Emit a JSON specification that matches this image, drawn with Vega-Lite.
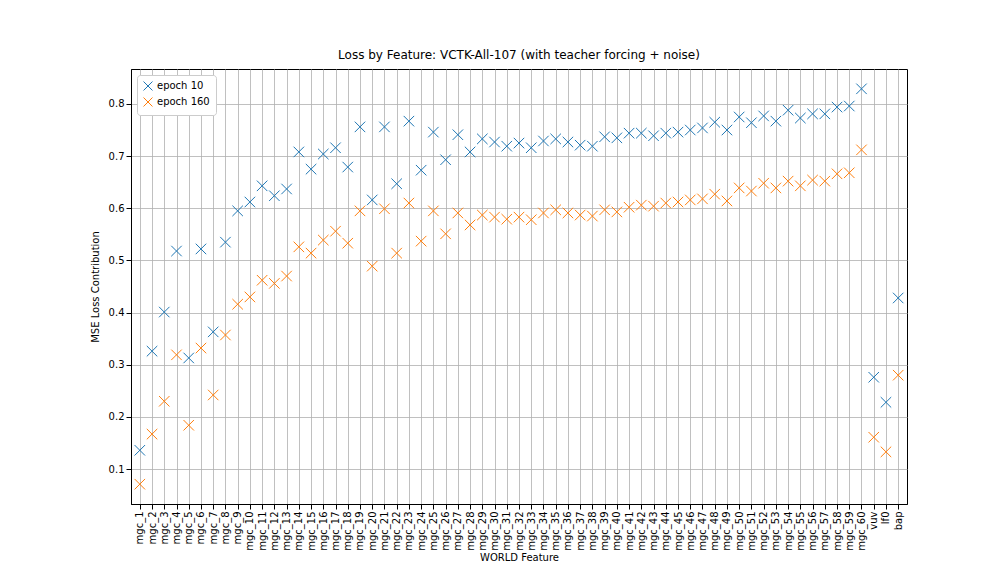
{
  "$schema": "https://vega.github.io/schema/vega-lite/v6.json",
  "width": 776,
  "height": 435,
  "autosize": {"type": "none"},
  "padding": {"left": 131, "top": 69, "right": 101, "bottom": 72},
  "background": "white",
  "config": {
    "font": "DejaVu Sans",
    "view": {"stroke": "black"},
    "axis": {"gridColor": "#b0b0b0", "gridWidth": 0.8, "gridOpacity": 1, "domainColor": "black", "tickColor": "black", "labelColor": "black", "labelFontSize": 10, "titleFontSize": 10, "titleFontWeight": "normal", "titleColor": "black"}
  },
  "title": {"text": "Loss by Feature: VCTK-All-107 (with teacher forcing + noise)", "fontSize": 12, "fontWeight": "normal", "offset": 7},
  "data": {
    "values": [
      {"f": "mgc_1", "a": 0.136, "b": 0.071},
      {"f": "mgc_2", "a": 0.326, "b": 0.167},
      {"f": "mgc_3", "a": 0.401, "b": 0.23},
      {"f": "mgc_4", "a": 0.518, "b": 0.319},
      {"f": "mgc_5", "a": 0.313, "b": 0.184},
      {"f": "mgc_6", "a": 0.522, "b": 0.332},
      {"f": "mgc_7", "a": 0.363, "b": 0.242},
      {"f": "mgc_8", "a": 0.535, "b": 0.357},
      {"f": "mgc_9", "a": 0.595, "b": 0.416},
      {"f": "mgc_10", "a": 0.612, "b": 0.43},
      {"f": "mgc_11", "a": 0.643, "b": 0.462},
      {"f": "mgc_12", "a": 0.624, "b": 0.456},
      {"f": "mgc_13", "a": 0.637, "b": 0.47},
      {"f": "mgc_14", "a": 0.708, "b": 0.526},
      {"f": "mgc_15", "a": 0.675, "b": 0.514},
      {"f": "mgc_16", "a": 0.704, "b": 0.539},
      {"f": "mgc_17", "a": 0.716, "b": 0.556},
      {"f": "mgc_18", "a": 0.679, "b": 0.533},
      {"f": "mgc_19", "a": 0.756, "b": 0.595},
      {"f": "mgc_20", "a": 0.616, "b": 0.489},
      {"f": "mgc_21", "a": 0.756, "b": 0.599},
      {"f": "mgc_22", "a": 0.647, "b": 0.514},
      {"f": "mgc_23", "a": 0.767, "b": 0.61},
      {"f": "mgc_24", "a": 0.673, "b": 0.537},
      {"f": "mgc_25", "a": 0.746, "b": 0.595},
      {"f": "mgc_26", "a": 0.693, "b": 0.551},
      {"f": "mgc_27", "a": 0.741, "b": 0.591},
      {"f": "mgc_28", "a": 0.708, "b": 0.568},
      {"f": "mgc_29", "a": 0.733, "b": 0.587},
      {"f": "mgc_30", "a": 0.727, "b": 0.583},
      {"f": "mgc_31", "a": 0.719, "b": 0.579},
      {"f": "mgc_32", "a": 0.725, "b": 0.583},
      {"f": "mgc_33", "a": 0.716, "b": 0.578},
      {"f": "mgc_34", "a": 0.729, "b": 0.591},
      {"f": "mgc_35", "a": 0.733, "b": 0.597},
      {"f": "mgc_36", "a": 0.727, "b": 0.591},
      {"f": "mgc_37", "a": 0.721, "b": 0.587},
      {"f": "mgc_38", "a": 0.719, "b": 0.585},
      {"f": "mgc_39", "a": 0.737, "b": 0.597},
      {"f": "mgc_40", "a": 0.735, "b": 0.593},
      {"f": "mgc_41", "a": 0.744, "b": 0.602},
      {"f": "mgc_42", "a": 0.744, "b": 0.606},
      {"f": "mgc_43", "a": 0.739, "b": 0.604},
      {"f": "mgc_44", "a": 0.744, "b": 0.61},
      {"f": "mgc_45", "a": 0.746, "b": 0.612},
      {"f": "mgc_46", "a": 0.75, "b": 0.616},
      {"f": "mgc_47", "a": 0.754, "b": 0.618},
      {"f": "mgc_48", "a": 0.765, "b": 0.627},
      {"f": "mgc_49", "a": 0.75, "b": 0.614},
      {"f": "mgc_50", "a": 0.775, "b": 0.639},
      {"f": "mgc_51", "a": 0.764, "b": 0.633},
      {"f": "mgc_52", "a": 0.777, "b": 0.648},
      {"f": "mgc_53", "a": 0.767, "b": 0.639},
      {"f": "mgc_54", "a": 0.788, "b": 0.652},
      {"f": "mgc_55", "a": 0.773, "b": 0.643},
      {"f": "mgc_56", "a": 0.781, "b": 0.654},
      {"f": "mgc_57", "a": 0.781, "b": 0.652},
      {"f": "mgc_58", "a": 0.794, "b": 0.666},
      {"f": "mgc_59", "a": 0.796, "b": 0.668},
      {"f": "mgc_60", "a": 0.829, "b": 0.712},
      {"f": "vuv", "a": 0.276, "b": 0.161},
      {"f": "lf0", "a": 0.228, "b": 0.133},
      {"f": "bap", "a": 0.428, "b": 0.28}
    ]
  },
  "transform": [
    {"fold": ["a", "b"], "as": ["k", "v"]},
    {"lookup": "k", "from": {"data": {"values": [{"k": "a", "s": "epoch 10"}, {"k": "b", "s": "epoch 160"}]}, "key": "k", "fields": ["s"]}}
  ],
  "mark": {"type": "point", "shape": "M-1,-1L1,1M-1,1L1,-1", "filled": false, "strokeWidth": 1, "size": 110, "opacity": 1},
  "encoding": {
    "x": {"field": "f", "type": "nominal", "sort": null, "title": "WORLD Feature", "scale": {"type": "point", "padding": 0.72}, "axis": {"labelAngle": -90, "grid": true, "titlePadding": 2}},
    "y": {"field": "v", "type": "quantitative", "title": "MSE Loss Contribution", "scale": {"domain": [0.033, 0.867], "nice": false, "zero": false}, "axis": {"values": [0.1, 0.2, 0.3, 0.4, 0.5, 0.6, 0.7, 0.8], "format": ".1f", "grid": true, "titlePadding": 8}},
    "color": {"field": "s", "type": "nominal", "scale": {"range": ["#1f77b4", "#ff7f0e"]}, "legend": {"title": null, "orient": "top-left", "offset": 6, "strokeColor": "#cccccc", "fillColor": "white", "padding": 6, "cornerRadius": 3, "labelFontSize": 10, "symbolStrokeWidth": 1, "symbolSize": 80}}
  }
}
